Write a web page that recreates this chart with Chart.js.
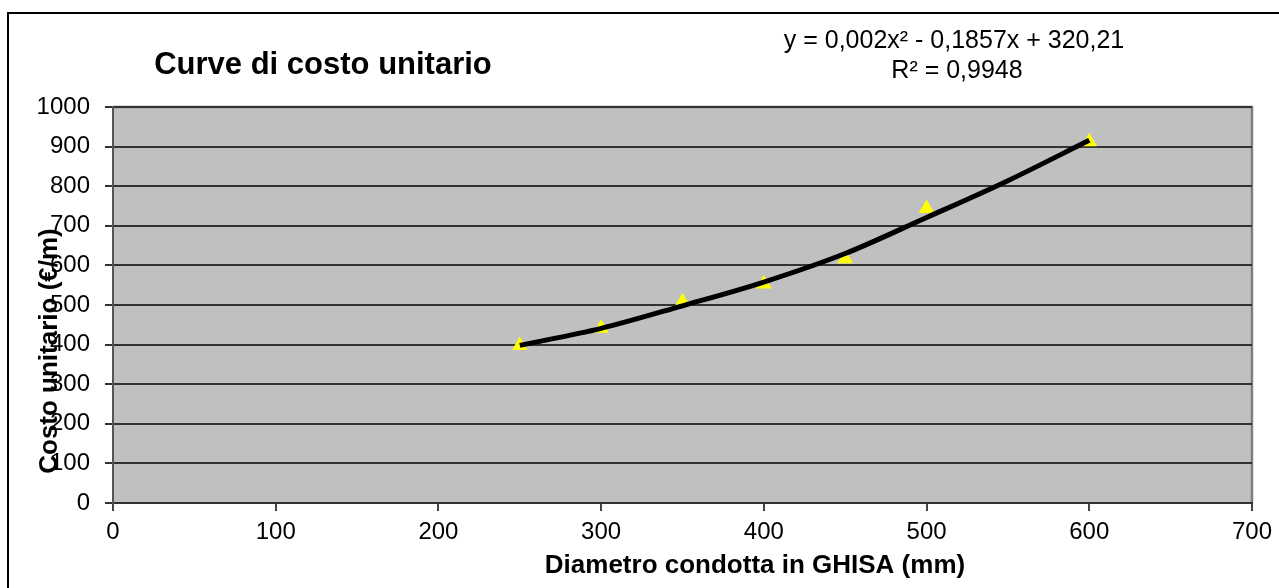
<!DOCTYPE html>
<html>
    <head>
        <title>Curve di costo unitario</title>
        <meta charset="UTF-8">
        <style>
          body { margin: 0; background: #ffffff; overflow: hidden; }
          #frame { position: absolute; left: 7px; top: 12px; width: 2000px; height: 2000px;
                   border-top: 2px solid #000; border-left: 2px solid #000; }
          #costChart { position: absolute; left: 0; top: 0; }
        </style>
    </head>
    <body>
        <div id="frame"></div>
        <canvas id="costChart" width="1279" height="588"></canvas>
        <script src="https://cdn.jsdelivr.net/npm/chart.js/dist/chart.umd.min.js"></script>

        <script>
          //****************************** data ******************************//
          const diametri = [250, 300, 350, 400, 450, 500, 600];   //diametro condotta (mm)
          const costi = [398, 441, 508, 553, 617, 744, 912];      //costo unitario (€/m)

          //polynomial trendline as drawn in the picture
          const trendX = [250, 300, 350, 400, 450, 500, 550, 600];
          const trendY = [398, 441, 498, 558, 630, 721, 814, 916];

          const xTicks = [0, 100, 200, 300, 400, 500, 600, 700];
          const yTicks = [0, 100, 200, 300, 400, 500, 600, 700, 800, 900, 1000];

          const titolo = 'Curve di costo unitario';
          const equazione = ['y = 0,002x\u00B2 - 0,1857x + 320,21', 'R\u00B2 = 0,9948'];
          const titoloX = 'Diametro condotta in GHISA (mm)';
          const titoloY = 'Costo unitario (\u20AC/m)';

          const FONT = '"Liberation Sans", Arial, sans-serif';

          //grey plot area with a light frame on top/right (Excel style)
          const plotArea = {
            id: 'plotArea',
            beforeDraw(chart){
              const a = chart.chartArea;
              const ctx = chart.ctx;
              ctx.save();
              ctx.fillStyle = '#c0c0c0';
              ctx.fillRect(a.left, a.top, a.right - a.left, a.bottom - a.top);
              ctx.strokeStyle = '#808080';
              ctx.lineWidth = 2.5;
              ctx.beginPath();
              ctx.moveTo(a.left, a.top);
              ctx.lineTo(a.right, a.top);
              ctx.lineTo(a.right, a.bottom);
              ctx.stroke();
              ctx.restore();
            }
          };

          //titles and trendline label
          const labels = {
            id: 'labels',
            afterDraw(chart){
              const a = chart.chartArea;
              const ctx = chart.ctx;
              ctx.save();
              ctx.fillStyle = '#000';
              ctx.textAlign = 'center';
              ctx.textBaseline = 'alphabetic';

              ctx.font = 'bold 31px ' + FONT;
              ctx.fillText(titolo, a.left + 210, a.top - 33);

              ctx.font = '25px ' + FONT;
              ctx.fillText(equazione[0], a.left + 841, a.top - 59);
              ctx.fillText(equazione[1], a.left + 844, a.top - 29);

              ctx.textBaseline = 'middle';
              ctx.font = 'bold 26px ' + FONT;
              ctx.fillText(titoloX, a.left + 642, a.bottom + 63);

              ctx.translate(a.left - 63, a.top + 244);
              ctx.rotate(-Math.PI / 2);
              ctx.fillText(titoloY, 0, 0);
              ctx.restore();
            }
          };

          const CHART = document.getElementById('costChart');
          let costChart = new Chart(CHART, {
            type: 'scatter',
            data: {
              datasets: [
                {
                  label: 'Poli. (costo)',
                  data: trendX.map((x, i) => ({x: x, y: trendY[i]})),
                  showLine: true,
                  borderColor: '#000000',
                  borderWidth: 5,
                  pointRadius: 0,
                  cubicInterpolationMode: 'monotone'
                },
                {
                  label: 'costo',
                  data: diametri.map((x, i) => ({x: x, y: costi[i]})),
                  pointStyle: 'triangle',
                  pointRadius: 9,
                  backgroundColor: '#ffff00',
                  borderColor: '#ffff00',
                  borderWidth: 0
                }
              ]
            },
            options: {
              responsive: false,
              animation: false,
              layout: { padding: { top: 107, right: 25, left: 0, bottom: 0 } },
              plugins: {
                legend: { display: false },
                tooltip: { enabled: false }
              },
              scales: {
                x: {
                  type: 'linear',
                  min: 0,
                  max: 700,
                  afterBuildTicks: (scale) => { scale.ticks = xTicks.map(v => ({value: v})); },
                  afterFit: (scale) => { scale.height = 85; },
                  grid: { drawOnChartArea: false, drawTicks: true, tickLength: 8, color: '#444444', lineWidth: 2 },
                  border: { display: true, color: '#333333', width: 2 },
                  ticks: { color: '#000', padding: 7, maxRotation: 0, font: { family: FONT, size: 24 },
                           callback: (v) => String(v) }
                },
                y: {
                  min: 0,
                  max: 1000,
                  afterBuildTicks: (scale) => { scale.ticks = yTicks.map(v => ({value: v})); },
                  afterFit: (scale) => { scale.width = 113; },
                  grid: { color: '#333333', lineWidth: 2, tickLength: 8, drawTicks: true },
                  border: { display: true, color: '#555555', width: 2 },
                  ticks: { color: '#000', padding: 15, font: { family: FONT, size: 24 },
                           callback: (v) => String(v) }
                }
              }
            },
            plugins: [plotArea, labels]
          });
        </script>
    </body>
</html>
